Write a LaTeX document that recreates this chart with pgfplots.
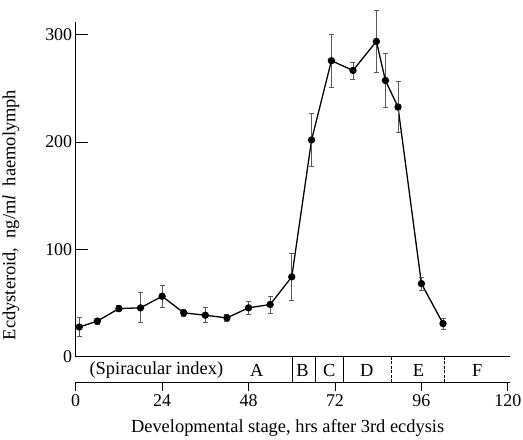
\documentclass[border=0pt]{standalone}
\usepackage{fontspec}
\setmainfont{Liberation Serif}
\usepackage{pgfplots}
\pgfplotsset{compat=1.18}
\begin{document}
\begin{tikzpicture}
\path[use as bounding box] (-75.7bp,-83.5bp) rectangle (447.3bp,356.5bp);
\begin{axis}[
  at={(0,0)}, anchor=south west,
  scale only axis, width=434.3bp, height=334.5bp,
  xmin=0, xmax=120.6, ymin=0, ymax=312,
  axis lines=left, axis line style={-, line width=1.1pt},
  xtick=\empty, ytick={0,100,200,300},
  tick align=inside, major tick length=12bp,
  tick style={line width=0.8pt, black},
  /pgf/number format/assume math mode=true,
  yticklabel style={font=\fontsize{18}{18}\selectfont, xshift=0bp},
  ylabel={Ecdysteroid,\ \ ng/m\textit{l}\ \ haemolymph},
  ylabel style={at={(axis description cs:-0.149,0.423)}, anchor=center, rotate=0, font=\fontsize{18.5}{18.5}\selectfont},
  clip=false,
]
\addplot+[black, line width=1.3pt, mark=*, mark size=3bp, mark options={black, fill=black},
  error bars/.cd, y dir=both, y explicit,
  error bar style={line width=0.7pt, gray!70!black},
  error mark options={rotate=90, mark size=2.5bp, line width=0.7pt, gray!70!black}]
table[x=x, y=y, y error=e] {
x y e
1 27.5 9
6 33 3
12 44.7 3
18 45.4 14
24 56.2 10
30 40.7 3
36 38.5 7
42 36 3
48 45.4 6
54 48.5 8
60 74.3 22
65.5 202 25
71 275.9 25
77 266.8 8
83.5 293.9 29
86 257.5 25
89.5 232.7 24
96 68 6
102 30.7 5
};
% stage strip
\draw[line width=1pt] (axis cs:60.3,0) -- (axis cs:60.3,-24.1);
\draw[line width=1pt] (axis cs:66.7,0) -- (axis cs:66.7,-24.1);
\draw[line width=1pt] (axis cs:74.3,0) -- (axis cs:74.3,-24.1);
\draw[line width=1pt, dash pattern=on 3bp off 1.5bp] (axis cs:87.6,0) -- (axis cs:87.6,-24.1);
\draw[line width=1pt, dash pattern=on 3bp off 1.5bp] (axis cs:102.4,0) -- (axis cs:102.4,-24.1);
\begin{scope}[every node/.style={font=\fontsize{18.5}{18.5}\selectfont, anchor=center}]
\node at (axis cs:22.4,-12.6) {(Spiracular index)};
\node at (axis cs:50.3,-12.6) {A};
\node at (axis cs:63,-12.6) {B};
\node at (axis cs:70.4,-12.6) {C};
\node at (axis cs:80.8,-12.6) {D};
\node at (axis cs:95.2,-12.6) {E};
\node at (axis cs:111.5,-12.6) {F};
\end{scope}
\end{axis}
\begin{axis}[
  at={(0,-25.8bp)}, anchor=south west,
  scale only axis, width=434.3bp, height=1bp,
  xmin=0, xmax=120.6, ymin=0, ymax=1,
  axis x line=bottom, axis y line=none,
  axis line style={-, line width=1.1pt},
  xtick={0,24,48,72,96,120}, ytick=\empty,
  tick align=outside, major tick length=9bp,
  tick style={line width=0.8pt, black},
  /pgf/number format/assume math mode=true,
  xticklabel style={font=\fontsize{18}{18}\selectfont},
  xlabel={Developmental stage,\ hrs after 3rd ecdysis},
  xlabel style={font=\fontsize{18.5}{18.5}\selectfont, at={(axis description cs:0.488,0)}, anchor=center, yshift=-46bp},
]
\addplot[draw=none] coordinates {(0,0)};
\end{axis}
\end{tikzpicture}
\end{document}
